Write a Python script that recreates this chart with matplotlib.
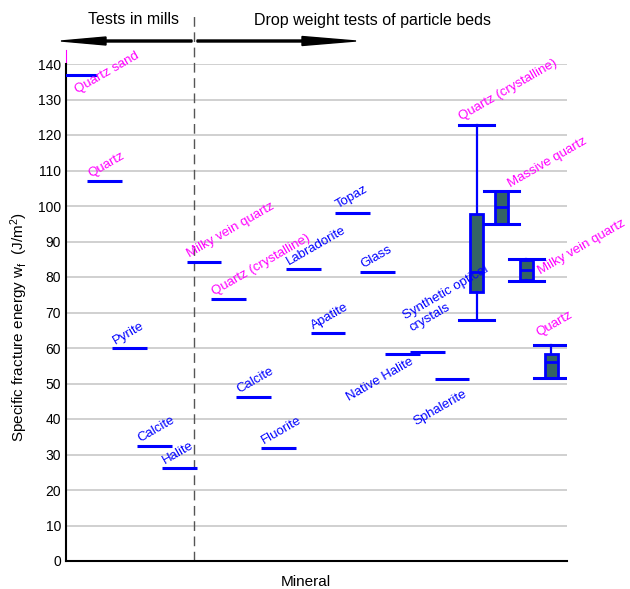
import matplotlib.pyplot as plt
from matplotlib.patches import FancyArrow
from matplotlib.transforms import IdentityTransform

plt.rcParams['font.family'] = ['Liberation Sans', 'DejaVu Sans']
plt.rcParams['mathtext.default'] = 'regular'

# single measurements (one value per mineral)
minerals = ['Quartz sand', 'Quartz', 'Pyrite', 'Calcite', 'Halite',
            'Milky vein quartz', 'Quartz (crystalline)', 'Calcite', 'Fluorite',
            'Labradorite', 'Apatite', 'Topaz', 'Glass', 'Native Halite',
            'Synthetic optical\ncrystals', 'Sphalerite']
energy = [137, 107, 60, 32.4, 26.2, 84.3, 73.7, 46.1, 31.7, 82.2, 64.1,
          98.1, 81.4, 58.3, 59.0, 51.4]
quartz_type = [True, True, False, False, False, True, True, False, False,
               False, False, False, False, False, False, False]

# minerals with a range of values
range_minerals = ['Quartz (crystalline)', 'Massive quartz', 'Milky vein quartz', 'Quartz']
range_low = [67.9, 94.8, 78.9, 51.5]
range_q1 = [75.9, 94.8, 79.2, 51.6]
range_med = [81.4, 99.6, 81.9, 56.0]
range_q3 = [97.7, 104.3, 84.8, 58.3]
range_high = [122.9, 104.3, 85.1, 60.8]

BLUE = '#0000ff'
MAGENTA = '#ff00ff'
FILL = '#346464'

fig = plt.figure(figsize=(6.3, 5.89), dpi=100)
ax = fig.add_axes([66 / 630, 1 - 561 / 589, (567 - 66) / 630, (561 - 64) / 589])

x_single = list(range(len(minerals)))
x_range = [len(minerals) + i for i in range(len(range_minerals))]
half = 0.7

# single values as short horizontal bars
ax.hlines(energy, [x - half for x in x_single], [x + half for x in x_single],
          color=BLUE, lw=2.2, zorder=3)

# ranges as boxes
stats = []
for lo, q1, med, q3, hi in zip(range_low, range_q1, range_med, range_q3, range_high):
    stats.append(dict(whislo=lo, q1=q1, med=med, q3=q3, whishi=hi, fliers=[]))
ax.bxp(stats, positions=x_range, widths=0.53, capwidths=1.41, patch_artist=True,
       showfliers=False, manage_ticks=False, zorder=3,
       boxprops=dict(facecolor=FILL, edgecolor=BLUE, lw=2),
       medianprops=dict(color=BLUE, lw=2),
       whiskerprops=dict(color=BLUE, lw=1.6),
       capprops=dict(color=BLUE, lw=2.2))

# labels for single values
for i, (name, v) in enumerate(zip(minerals, energy)):
    col = MAGENTA if quartz_type[i] else BLUE
    xy = (x_single[i] - half, v)
    off = (2.2, 2.9)
    ha = 'left'
    if name == 'Quartz sand':
        off = (10.8, -13.7)
    elif name == 'Native Halite':
        xy = (x_single[i] + half, v)
        off = (-4, -6.5)
        ha = 'right'
    elif name.startswith('Synthetic'):
        off = (1, 15.5)
    elif name == 'Sphalerite':
        xy = (x_single[i] + half, v)
        off = (-1.4, -12.6)
        ha = 'right'
    ax.annotate(name, xy, xytext=off, textcoords='offset points', rotation=30,
                rotation_mode='anchor', ha=ha, va='baseline', color=col,
                fontsize=9.5, annotation_clip=False, zorder=4)

# labels for ranges
range_offsets = [(1.4, 3.2), (18.7, 2.7), (23, -11.5), (3.6, 6.5)]
for i, name in enumerate(range_minerals):
    ax.annotate(name, (x_range[i] - half, range_high[i]), xytext=range_offsets[i],
                textcoords='offset points', rotation=30, rotation_mode='anchor',
                ha='left', va='baseline', color=MAGENTA, fontsize=9.5,
                annotation_clip=False, zorder=4)

ax.set_xlim(-0.565, 19.64)
ax.set_ylim(0, 140)
ax.set_yticks(range(0, 141, 10))
ax.set_xticks([])
ax.tick_params(axis='y', length=0, pad=3.5, labelsize=10)
ax.yaxis.grid(True, color='#c4c4c4', lw=1.1)
ax.set_axisbelow(True)
for s in ['top', 'right']:
    ax.spines[s].set_visible(False)
for s in ['left', 'bottom']:
    ax.spines[s].set_linewidth(1.5)
    ax.spines[s].set_color('black')

# small magenta tick above the axis
ax.plot([-0.565, -0.565], [140, 143.9], color=MAGENTA, lw=0.8, clip_on=False)

# divider between mill tests and drop weight tests
ax.plot([4.6, 4.6], [0, 154.4], color='#555555', lw=1, ls=(0, (7, 4)), clip_on=False)

# arrows
fig.add_artist(FancyArrow(192, 548, -(192 - 61), 0, width=2, head_width=8, head_length=45,
                          length_includes_head=True, color='black',
                          transform=IdentityTransform()))
fig.add_artist(FancyArrow(197, 548, 356 - 197, 0, width=2, head_width=9, head_length=54,
                          length_includes_head=True, color='black',
                          transform=IdentityTransform()))

fig.text(133 / 630, 1 - 20 / 589, 'Tests in mills', ha='center', va='center', fontsize=11.5)
fig.text(372 / 630, 1 - 20 / 589, 'Drop weight tests of particle beds', ha='center',
         va='center', fontsize=11.5)
fig.text(306 / 630, 1 - 582 / 589, 'Mineral', ha='center', va='center', fontsize=11)
fig.text(19 / 630, 1 - 327 / 589, 'Specific fracture energy w$_f$  (J/m$^2$)',
         rotation=90, ha='center', va='center', fontsize=11)

fig.savefig('out.png', dpi=100)
